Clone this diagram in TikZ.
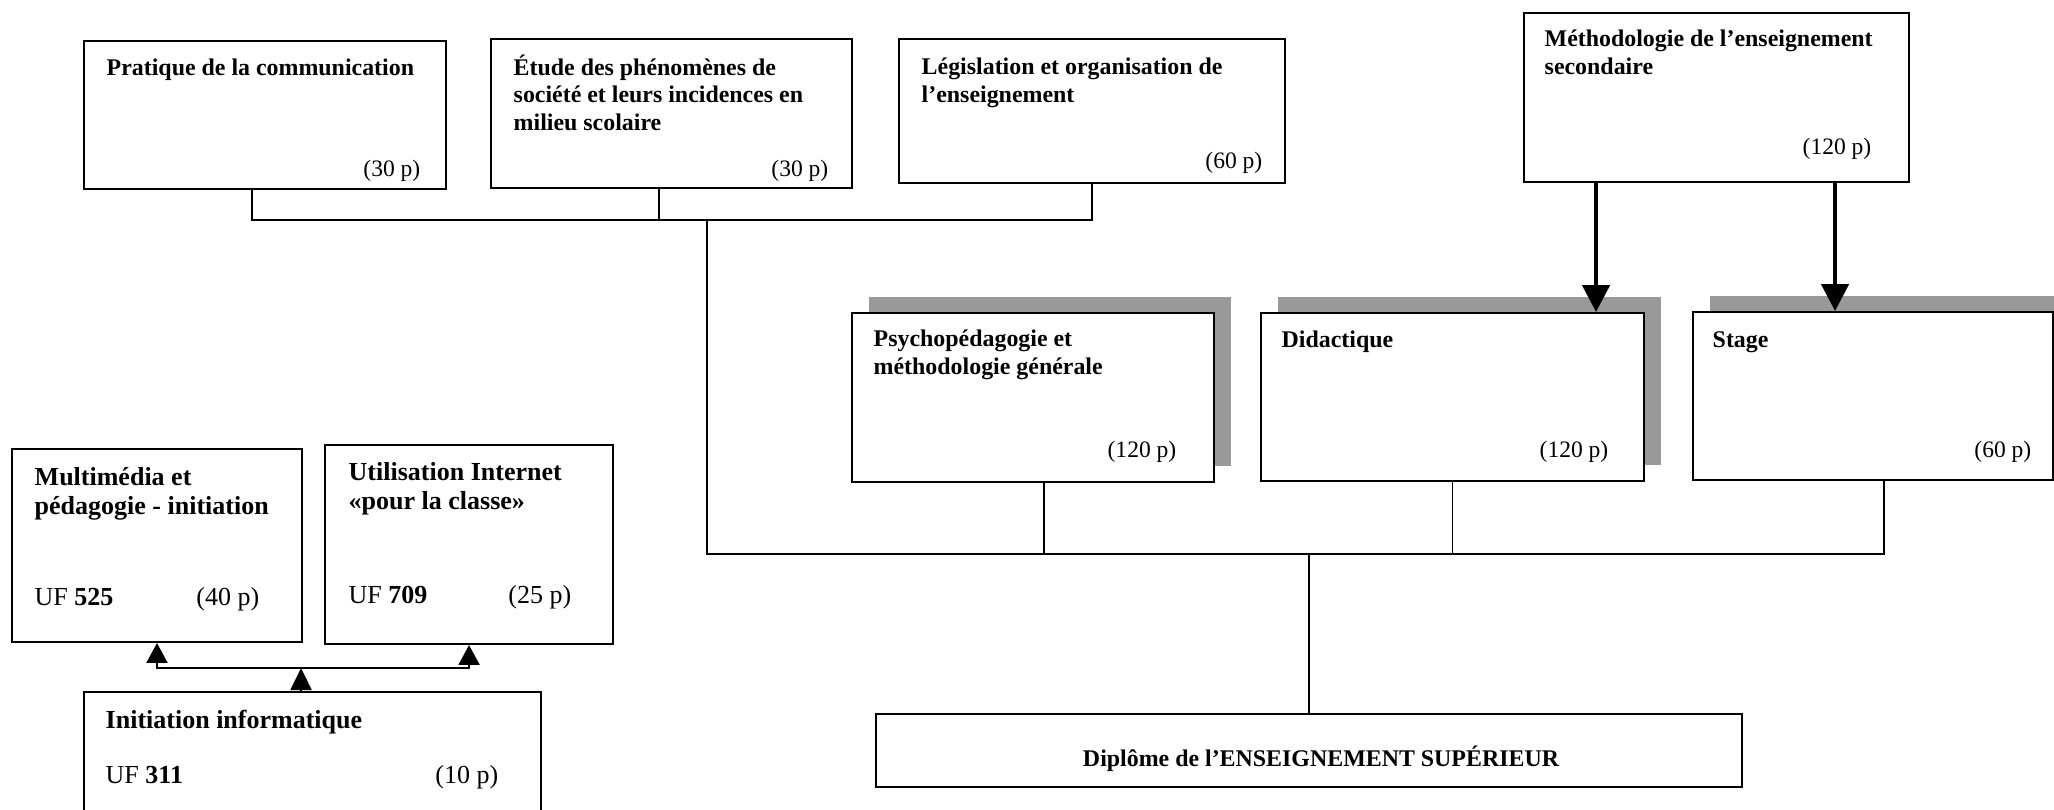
\documentclass[tikz,border=0pt]{standalone}
\usepackage{fontspec}
\setmainfont{Liberation Serif}
\usetikzlibrary{arrows.meta,calc,fit,shadows}

\begin{document}
\begin{tikzpicture}[x=0.1mm,y=0.1mm]
        \tikzstyle{every node}+=[inner sep=0pt]
        \tikzset{
            module/.style={draw, fill=white, line width=0.55pt},
            shaded/.style={drop shadow={shadow xshift=1.7mm, shadow yshift=1.6mm, fill=black!40, opacity=1}},
            title/.style={anchor=base west, align=left, font=\fontsize{6.8}{7.8}\selectfont\bfseries},
            hours/.style={anchor=base east, font=\fontsize{6.7}{7.8}\selectfont},
            bigtitle/.style={anchor=base west, align=left, font=\fontsize{7.4}{8}\selectfont\bfseries},
            code/.style={anchor=base west, font=\fontsize{7.4}{8}\selectfont},
            bighours/.style={anchor=base east, font=\fontsize{7.4}{8}\selectfont},
            link/.style={line width=0.45pt},
            feed/.style={line width=1.3pt, -{Triangle[length=2.7mm, width=2.7mm]}},
            fork/.style={line width=0.6pt}
        }
        \useasboundingbox (0,0) rectangle (2054,-809);
        % top row (multi-line titles sit on their last baseline)
        \node [module, fit={(84,-41) (446,-189)}] (prat) {};
        \node [title] (prat-t) at (106,-75) {Pratique de la communication};
        \node [hours] (prat-h) at (421,-176) {(30 p)};
        \node [module, fit={(491,-39) (852,-188)}] (etu) {};
        \node [title] (etu-t) at (513,-130) {Étude des phénomènes de\\société et leurs incidences en\\milieu scolaire};
        \node [hours] (etu-h) at (829,-176) {(30 p)};
        \node [module, fit={(899,-39) (1285,-183)}] (leg) {};
        \node [title] (leg-t) at (921,-102) {Législation et organisation de\\l’enseignement};
        \node [hours] (leg-h) at (1263,-168) {(60 p)};
        \node [module, fit={(1524,-13) (1909,-182)}] (meth) {};
        \node [title] (meth-t) at (1544,-74) {Méthodologie de l’enseignement\\secondaire};
        \node [hours] (meth-h) at (1872,-154) {(120 p)};
        % middle row
        \node [module, shaded, fit={(852,-313) (1214,-482)}] (psy) {};
        \node [title] (psy-t) at (873,-374) {Psychopédagogie et\\méthodologie générale};
        \node [hours] (psy-h) at (1177,-457) {(120 p)};
        \node [module, shaded, fit={(1261,-313) (1644,-481)}] (did) {};
        \node [title] (did-t) at (1281,-347) {Didactique};
        \node [hours] (did-h) at (1609,-457) {(120 p)};
        \node [module, shaded, fit={(1693,-312) (2053,-480)}] (stage) {};
        \node [title] (stage-t) at (1712,-347) {Stage};
        \node [hours] (stage-h) at (2032,-457) {(60 p)};
        % diploma
        \node [module, fit={(876,-714) (1742,-787)}] (dip) {};
        \node [title, anchor=base] (dip-t) at (1321,-766) {Diplôme de l’ENSEIGNEMENT SUPÉRIEUR};
        % computing modules
        \node [module, fit={(12,-449) (302,-642)}] (mm) {};
        \node [bigtitle] (mm-t) at (34,-514) {Multimédia et\\pédagogie - initiation};
        \node [code] (mm-c) at (34,-605) {UF \textbf{525}};
        \node [bighours] (mm-h) at (260,-605) {(40 p)};
        \node [module, fit={(325,-445) (613,-644)}] (ui) {};
        \node [bigtitle] (ui-t) at (348,-509) {Utilisation Internet\\«pour la classe»};
        \node [code] (ui-c) at (348,-603) {UF \textbf{709}};
        \node [bighours] (ui-h) at (572,-603) {(25 p)};
        \node [module, fit={(84,-692) (541,-822)}] (ii) {};
        \node [bigtitle] (ii-t) at (105,-728) {Initiation informatique};
        \node [code] (ii-c) at (105,-783) {UF \textbf{311}};
        \node [bighours] (ii-h) at (499,-783) {(10 p)};
        % connectors
        \coordinate (lvlA) at (707,-220);
        \coordinate (lvlB) at (1309,-554);
        \coordinate (lvlC) at (0,-668);
        \coordinate (pratC) at ($(prat.south west)+(169,0)$);
        \coordinate (etuC) at ($(etu.south west)+(169,0)$);
        \coordinate (psyC) at ($(psy.south west)+(193,0)$);
        \coordinate (stageC) at ($(stage.south west)+(192,0)$);
        \draw [link] (pratC) |- (leg.south |- lvlA) -- (leg.south);
        \draw [link] (etuC) -- (etuC |- lvlA);
        \draw [link] (lvlA) |- (stageC |- lvlB) -- (stageC);
        \draw [link] (psyC) -- (psyC |- lvlB);
        \draw [link] (did.south) -- (did.south |- lvlB);
        \draw [link] (dip.north) -- (dip.north |- lvlB);
        \coordinate (didIn) at ($(did.north west)+(336,0)$);
        \coordinate (stageIn) at ($(stage.north west)+(143,0)$);
        \draw [feed] (didIn |- meth.south) -- (didIn);
        \draw [feed] (stageIn |- meth.south) -- (stageIn);
        \coordinate (uiIn) at ($(ui.south west)+(145,0)$);
        \coordinate (iiOut) at ($(ii.north west)+(218,0)$);
        \draw [fork, {Triangle[length=2mm, width=2.1mm]}-{Triangle[length=2mm, width=2.1mm]}] (mm.south) |- (uiIn |- lvlC) -- (uiIn);
        \draw [fork, -{Triangle[length=2.2mm, width=2.1mm]}] (iiOut) -- (iiOut |- lvlC);
\end{tikzpicture}
\end{document}
